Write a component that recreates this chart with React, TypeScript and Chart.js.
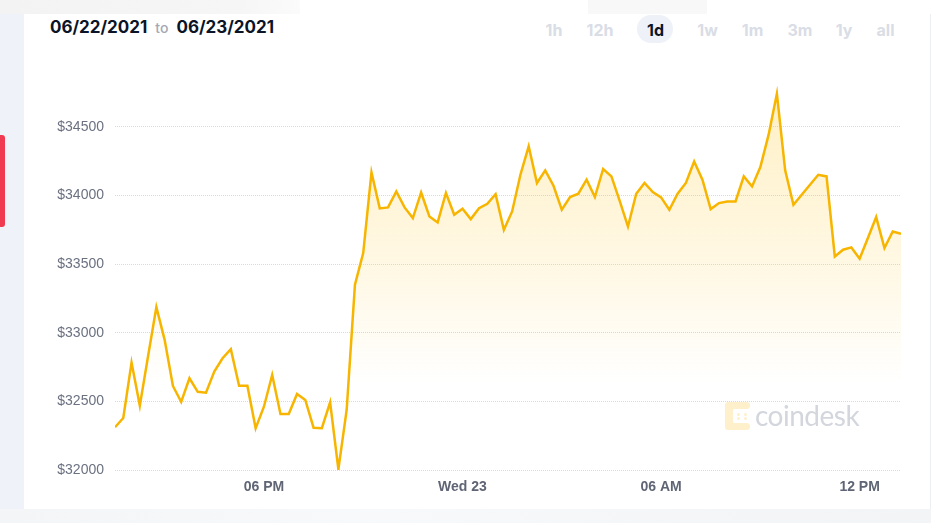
import React, { useEffect, useRef } from "react";
import { Chart, registerables } from "chart.js";

Chart.register(...registerables);

// ---- data ----
const startDate = "06/22/2021";
const endDate = "06/23/2021";
const startHour = 13.5; // 1:30 PM on 06/22
const stepHours = 0.25; // 15-minute samples

const prices = [
  32311, 32379, 32782, 32469, 32830, 33186, 32948, 32612, 32496, 32668,
  32569, 32563, 32717, 32814, 32880, 32614, 32614, 32304, 32461, 32692,
  32408, 32408, 32554, 32510, 32308, 32304, 32493, 32005, 32437, 33350,
  33580, 34167, 33905, 33912, 34029, 33912, 33835, 34021, 33846, 33803,
  34017, 33859, 33902, 33827, 33907, 33939, 34009, 33749, 33883, 34150,
  34357, 34090, 34182, 34070, 33895, 33988, 34012, 34114, 33988, 34192,
  34138, 33960, 33773, 34012, 34090, 34024, 33985, 33895, 34012, 34090,
  34247, 34114, 33900, 33944, 33956, 33956, 34138, 34065, 34206, 34442,
  34741, 34182, 33932, 34004, 34077, 34150, 34138, 33555, 33604, 33621,
  33538, 33690, 33842, 33616, 33737, 33720,
];

const xTickHours = [18, 24, 30, 36];
const xTickLabels = ["06 PM", "Wed 23", "06 AM", "12 PM"];
const yTickValues = [32000, 32500, 33000, 33500, 34000, 34500];
const yMin = 32000;
const yMax = 34800;
const fillFadeValue = 32620;

const rangeButtons = ["1h", "12h", "1d", "1w", "1m", "3m", "1y", "all"];
const rangeCenters = [554, 600, 655.5, 707.5, 752.5, 800, 844, 885.5];
const activeRange = "1d";

const LINE = "#f7b500";

export default function App() {
  const canvasRef = useRef<HTMLCanvasElement | null>(null);

  useEffect(() => {
    const canvas = canvasRef.current;
    if (!canvas) return;
    const chart = new Chart(canvas, {
      type: "line",
      data: {
        datasets: [
          {
            data: prices.map((p, i) => ({ x: startHour + i * stepHours, y: p })),
            borderColor: LINE,
            borderWidth: 2.5,
            pointRadius: 0,
            tension: 0,
            fill: "start",
            backgroundColor: (ctx: any) => {
              const c = ctx.chart;
              const area = c.chartArea;
              if (!area) return "rgba(255,196,30,0)";
              const yEnd = c.scales.y.getPixelForValue(fillFadeValue);
              const g = c.ctx.createLinearGradient(0, area.top, 0, yEnd);
              g.addColorStop(0, "rgba(255,196,30,0.26)");
              g.addColorStop(0.6, "rgba(255,196,30,0.12)");
              g.addColorStop(1, "rgba(255,196,30,0.0)");
              return g;
            },
          },
        ],
      },
      options: {
        animation: false,
        responsive: false,
        maintainAspectRatio: false,
        layout: { padding: { top: 35.5, right: 29, left: 0, bottom: 0 } },
        plugins: { legend: { display: false }, tooltip: { enabled: false } },
        scales: {
          x: {
            type: "linear",
            min: startHour,
            max: startHour + (prices.length - 1) * stepHours,
            grid: { display: false, drawTicks: false },
            border: { display: false },
            afterBuildTicks: (s: any) => {
              s.ticks = xTickHours.map((v) => ({ value: v }));
            },
            afterFit: (s: any) => {
              s.height = 39;
            },
            ticks: {
              autoSkip: false,
              maxRotation: 0,
              padding: 9,
              color: "#5f6574",
              font: { family: "'Liberation Sans', Arial, sans-serif", size: 14, weight: "bold" },
              callback: (v: any) => {
                const i = xTickHours.indexOf(Number(v));
                return i >= 0 ? xTickLabels[i] : "";
              },
            },
          },
          y: {
            min: yMin,
            max: yMax,
            afterBuildTicks: (s: any) => {
              s.ticks = yTickValues.map((v) => ({ value: v }));
            },
            afterFit: (s: any) => {
              s.width = 91;
            },
            grid: { color: "#d3daea", lineWidth: 1, drawTicks: false },
            border: { display: false, dash: [1, 1] },
            ticks: {
              padding: 11,
              color: "#6b7180",
              font: { family: "'Liberation Sans', Arial, sans-serif", size: 14 },
              callback: (v: any) => "$" + v,
            },
          },
        },
      },
    } as any);
    return () => chart.destroy();
  }, []);

  return (
    <div
      style={{
        position: "fixed",
        left: 0,
        top: 0,
        width: 931,
        height: 523,
        background: "#ffffff",
        overflow: "hidden",
        fontFamily: "Inter, 'Liberation Sans', sans-serif",
      }}
    >
      {/* top faint band */}
      <div style={{ position: "absolute", left: 0, top: 0, width: 300, height: 14, background: "linear-gradient(to right, #f3f3f4, #f6f6f7 80%, #fbfbfb)" }} />
      <div style={{ position: "absolute", left: 588, top: 0, width: 119, height: 14, background: "#f8f8f9" }} />
      {/* left strip */}
      <div style={{ position: "absolute", left: 0, top: 14, width: 24, height: 495, background: "#eff3f9" }} />
      <div style={{ position: "absolute", left: 0, top: 135, width: 4.5, height: 92, background: "#f03a52", borderRadius: "0 3px 3px 0" }} />
      {/* bottom band */}
      <div style={{ position: "absolute", left: 0, top: 509, width: 931, height: 14, background: "linear-gradient(to right, #f4f5f7, #f8f9fa 40%, #f5f6f8 70%, #f3f4f6)" }} />
      {/* right edge */}
      <div style={{ position: "absolute", left: 930, top: 14, width: 1, height: 495, background: "#eceef2" }} />

      {/* header dates */}
      <div style={{ position: "absolute", left: 50, top: 17, height: 20, lineHeight: "20px", whiteSpace: "nowrap", color: "#0b1426" }}>
        <span style={{ fontSize: 17, fontWeight: 700 }}>{startDate}</span>
        <span style={{ fontSize: 14, fontWeight: 500, color: "#a3a8b4", margin: "0 8px 0 8px" }}>to</span>
        <span style={{ fontSize: 17, fontWeight: 700 }}>{endDate}</span>
      </div>

      {/* range buttons */}
      <div style={{ position: "absolute", left: 637, top: 15, width: 36, height: 28, borderRadius: 14, background: "#eef1f7" }} />
      {rangeButtons.map((b, i) => (
        <div
          key={b}
          style={{
            position: "absolute",
            left: rangeCenters[i] - 30,
            top: 16,
            width: 60,
            height: 28,
            lineHeight: "28px",
            textAlign: "center",
            fontSize: 16,
            fontWeight: 700,
            color: b === activeRange ? "#0c1528" : "#d9dde6",
          }}
        >
          {b}
        </div>
      ))}

      {/* chart */}
      <canvas
        ref={canvasRef}
        width={906}
        height={459}
        style={{ position: "absolute", left: 24, top: 50, width: 906, height: 459 }}
      />

      {/* watermark */}
      <div style={{ position: "absolute", left: 725, top: 402, width: 26, height: 28, pointerEvents: "none" }}>
        <div style={{ position: "absolute", left: 0, top: 0, width: 8, height: 28, borderRadius: 4, background: "#fdf0cb" }} />
        <div style={{ position: "absolute", left: 0, top: 0, width: 25, height: 7, borderRadius: 4, background: "#fdf0cb" }} />
        <div style={{ position: "absolute", left: 0, top: 21, width: 25, height: 7, borderRadius: 4, background: "#fdf0cb" }} />
        <div style={{ position: "absolute", left: 12, top: 11, width: 3, height: 3, borderRadius: 2, background: "#fdf0cb" }} />
        <div style={{ position: "absolute", left: 19, top: 11, width: 3, height: 3, borderRadius: 2, background: "#fdf0cb" }} />
        <div style={{ position: "absolute", left: 12, top: 15, width: 3, height: 3, borderRadius: 2, background: "#fdf0cb" }} />
        <div style={{ position: "absolute", left: 19, top: 15, width: 3, height: 3, borderRadius: 2, background: "#fdf0cb" }} />
      </div>
      <div
        style={{
          position: "absolute",
          left: 755,
          top: 398,
          fontFamily: "Lato, 'Open Sans', sans-serif",
          fontSize: 28,
          lineHeight: "34px",
          color: "#d3d6dd",
          letterSpacing: -0.5,
          pointerEvents: "none",
        }}
      >
        coindesk
      </div>
    </div>
  );
}
